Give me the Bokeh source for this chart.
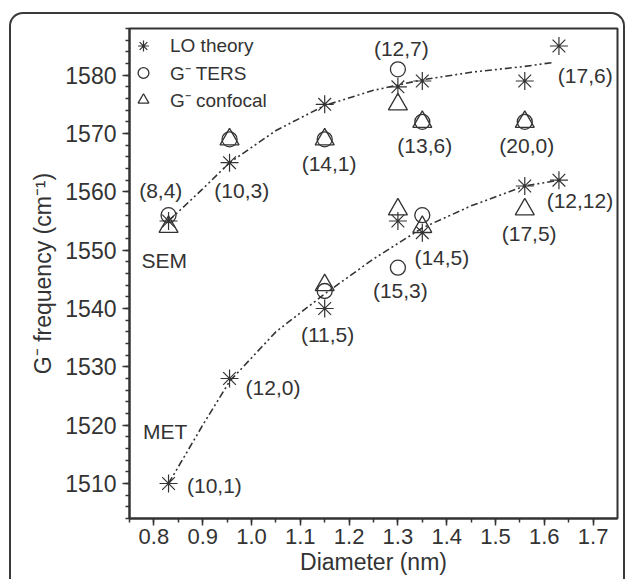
from bokeh.plotting import figure
from bokeh.models import Range1d, SingleIntervalTicker, ColumnDataSource, PrintfTickFormatter
from bokeh.core.properties import value
from bokeh.embed import file_html
from bokeh.resources import INLINE

# ---- data ----
# SEM branch
sem_lo_d = [0.83, 0.955, 1.15, 1.30, 1.35, 1.56, 1.63]
sem_lo_f = [1555, 1565, 1575, 1578, 1579, 1579, 1585]
sem_ters_d = [0.83, 0.955, 1.15, 1.30, 1.35, 1.56]
sem_ters_f = [1556, 1569, 1569, 1581, 1572, 1572]
sem_conf_d = [0.83, 0.955, 1.15, 1.30, 1.35, 1.56]
sem_conf_f = [1554, 1569, 1569, 1575, 1572, 1572]
# MET branch
met_lo_d = [0.83, 0.955, 1.15, 1.30, 1.35, 1.56, 1.63]
met_lo_f = [1510, 1528, 1540, 1555, 1553, 1561, 1562]
met_ters_d = [1.15, 1.30, 1.35]
met_ters_f = [1543, 1547, 1556]
met_conf_d = [1.15, 1.30, 1.35, 1.56]
met_conf_f = [1544, 1557, 1554, 1557]
# fitted guide curves
sem_fit_d = [0.83, 0.90, 0.955, 1.05, 1.15, 1.25, 1.35, 1.45, 1.56, 1.62]
sem_fit_f = [1555, 1560.5, 1565, 1570.5, 1574.8, 1577.4, 1579.2, 1580.5, 1581.5, 1582.2]
met_fit_d = [0.83, 0.90, 0.955, 1.05, 1.15, 1.25, 1.35, 1.45, 1.56, 1.63]
met_fit_f = [1510, 1520, 1527.5, 1536, 1542.5, 1548.5, 1553.8, 1557.6, 1561, 1562]
# chirality labels
labels = ["(8,4)", "(10,3)", "(14,1)", "(12,7)", "(13,6)", "(20,0)", "(17,6)",
          "(12,12)", "(17,5)", "(14,5)", "(15,3)", "(11,5)", "(12,0)", "(10,1)",
          "SEM", "MET"]
label_d = [0.814, 0.980, 1.159, 1.307, 1.355, 1.564, 1.684,
           1.673, 1.569, 1.390, 1.305, 1.156, 1.044, 0.924,
           0.821, 0.823]
label_f = [1560.3, 1560.3, 1564.8, 1584.6, 1568.0, 1568.0, 1580.0,
           1558.5, 1552.9, 1548.8, 1543.1, 1535.6, 1526.5, 1509.6,
           1548.3, 1518.9]

INK = "#333333"
FONT = "Liberation Sans"

p = figure(width=616, height=567, output_backend="svg", toolbar_location=None,
           x_range=Range1d(0.75, 1.75), y_range=Range1d(1504, 1588),
           min_border_left=118, min_border_right=10, min_border_top=14,
           min_border_bottom=63)
p.styles = {"margin-left": "9px", "margin-top": "12px",
            "border": "2px solid #3a3a3a", "border-bottom": "none",
            "border-radius": "14px 14px 0 0"}
p.background_fill_color = "white"
p.border_fill_alpha = 0
p.grid.visible = False
p.outline_line_color = INK
p.outline_line_width = 2

# axes
p.xaxis.ticker = SingleIntervalTicker(interval=0.1, num_minor_ticks=2)
p.xaxis.formatter = PrintfTickFormatter(format="%.1f")
p.yaxis.ticker = SingleIntervalTicker(interval=10, num_minor_ticks=5)
p.xaxis.axis_label = "Diameter (nm)"
p.yaxis.axis_label = "G\u207b frequency (cm\u207b\u00b9)"
for ax in (p.xaxis[0], p.yaxis[0]):
    ax.axis_line_color = INK
    ax.axis_line_width = 2
    ax.major_tick_line_color = INK
    ax.minor_tick_line_color = INK
    ax.major_tick_line_width = 1.5
    ax.minor_tick_line_width = 1.5
    ax.major_tick_out = 7
    ax.major_tick_in = 0
    ax.minor_tick_out = 4
    ax.minor_tick_in = 0
    ax.major_label_text_font = FONT
    ax.major_label_text_font_size = "23px"
    ax.major_label_text_color = INK
    ax.axis_label_text_font = FONT
    ax.axis_label_text_font_size = "23px"
    ax.axis_label_text_font_style = "normal"
    ax.axis_label_text_color = INK
p.xaxis.major_label_text_font_size = "22px"
p.xaxis.major_label_standoff = 3
p.xaxis.axis_label_standoff = 2
p.yaxis.major_label_standoff = 6
p.yaxis.axis_label_standoff = 6

# guide curves
dash = "7 3 2 3 2 3"
p.line(sem_fit_d, sem_fit_f, line_color=INK, line_width=1.6, line_dash=dash)
p.line(met_fit_d, met_fit_f, line_color=INK, line_width=1.6, line_dash=dash)

# markers
lo = p.scatter(sem_lo_d + met_lo_d, sem_lo_f + met_lo_f, marker="asterisk", size=18,
               line_color=INK, line_width=1.2, legend_label="LO theory")
ters = p.scatter(sem_ters_d + met_ters_d, sem_ters_f + met_ters_f, marker="circle", size=15,
                 line_color=INK, line_width=1.3, fill_color=None, legend_label="G\u207b TERS")
conf = p.scatter(sem_conf_d + met_conf_d, sem_conf_f + met_conf_f, marker="triangle", size=19,
                 line_color=INK, line_width=1.3, fill_color=None, legend_label="G\u207b confocal")

# text labels
src = ColumnDataSource(dict(x=label_d, y=label_f, t=labels))
p.text(x="x", y="y", text="t", source=src, text_font=value(FONT), text_font_size="21px",
       text_color=INK, text_align="center", text_baseline="middle")

# legend
lg = p.legend[0]
lg.location = (0, 405)
lg.border_line_color = None
lg.background_fill_alpha = 0
lg.label_text_font = FONT
lg.label_text_font_size = "19px"
lg.label_text_color = INK
lg.glyph_width = 28
lg.glyph_height = 27
lg.label_height = 27
lg.spacing = 0
lg.padding = 0
lg.margin = 0
lg.label_standoff = 13

open("out.html", "w").write(file_html(p, INLINE))
